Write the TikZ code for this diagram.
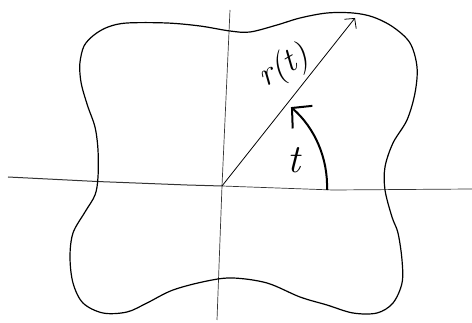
\documentclass[tikz,border=0pt]{standalone}
\usetikzlibrary{arrows.meta}
\begin{document}
\begin{tikzpicture}[x=1pt,y=-1pt,
  axisline/.style={line width=0.7pt, black!80},
  curveline/.style={line width=1.2pt},
  radiusline/.style={line width=0.8pt, -{Straight Barb[length=7pt,width=15pt]}},
  anglearc/.style={line width=2pt, -{Straight Barb[length=14pt,width=30pt]}},
  lbl/.style={inner sep=0pt}]
\useasboundingbox (0,0) rectangle (472,323);
% axes
\coordinate (O) at (222,186);
\coordinate (XL) at (8,177);
\coordinate (XR) at (472,189);
\coordinate (YT) at (230,10);
\coordinate (YB) at (217,320);
\draw[axisline, line width=1pt] (XL) -- (97,181.5) -- (187,185) -- (O);
\draw[axisline] (O) -- (333,190) -- (XR);
\draw[axisline] (YT) -- (O) -- (YB);
% closed curve
\draw[curveline] plot[smooth cycle, tension=0.55] coordinates {
 (80,62) (84,46) (94,35) (108,27) (127,23) (167,23) (200,26) (230,31) (250,32)
 (277,25) (300,18) (327,13) (353,13) (373,17) (393,27) (410,43) (417,67) (415,93)
 (407,120) (393,143) (385,167) (385,190) (392,217) (398,233) (402,260) (402,283)
 (393,303) (377,313) (353,313) (327,305) (300,297) (267,283) (233,278) (207,281)
 (173,290) (147,303) (127,312) (103,313) (83,303) (73,283) (70,257) (73,233)
 (85,212) (95,195) (98,177) (98,150) (95,127) (88,107) (82,87) (80,74)};
% radius vector
\coordinate (P) at (355,18);
\draw[radiusline] (O) -- (P);
% angle arc
\coordinate (A0) at (327,190);
\draw[anglearc] (A0) arc[start angle=-2, end angle=49, radius=105pt];
% labels
\node[lbl, rotate=30, font=\fontsize{34}{34}\selectfont\itshape] (rt) at (284,67) {r(t)};
\node[lbl, font=\fontsize{40}{40}\selectfont\itshape] (tl) at (294,160) {t};
\end{tikzpicture}
\end{document}
